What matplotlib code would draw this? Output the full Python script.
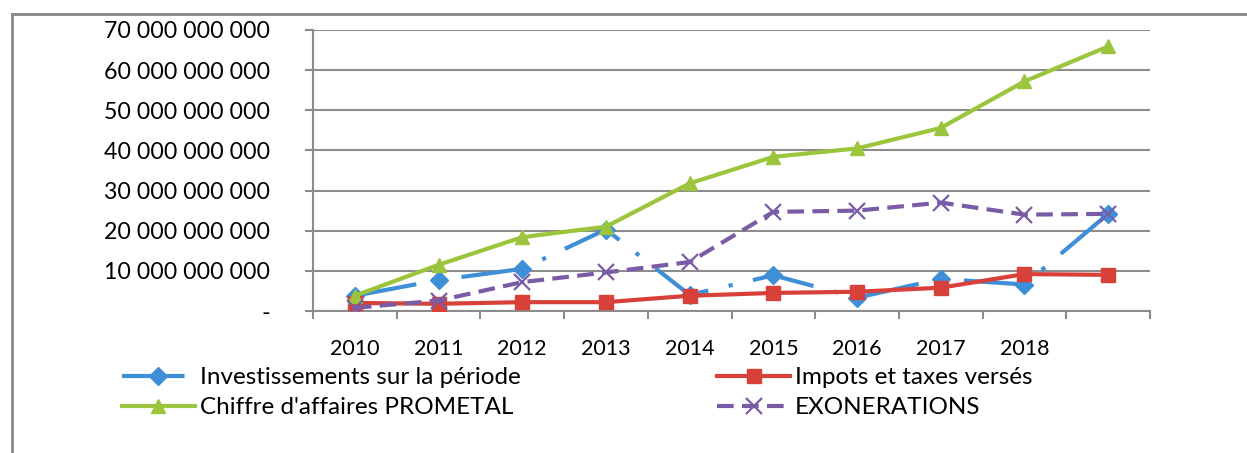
import matplotlib.pyplot as plt
import numpy as np
from matplotlib.lines import Line2D

# Données
annees = ['2010', '2011', '2012', '2013', '2014', '2015', '2016', '2017', '2018', '']
investissements = [3.8e9, 7.7e9, 10.5e9, 20.3e9, 4.0e9, 8.9e9, 3.3e9, 8.0e9, 6.6e9, 24.2e9]
impots = [2.0e9, 1.8e9, 2.2e9, 2.2e9, 3.8e9, 4.5e9, 4.8e9, 5.8e9, 9.2e9, 9.0e9]
chiffre_affaires = [3.8e9, 11.5e9, 18.4e9, 21.0e9, 31.8e9, 38.4e9, 40.5e9, 45.6e9, 57.2e9, 65.9e9]
exonerations = [0.8e9, 2.6e9, 7.2e9, 9.6e9, 12.2e9, 24.7e9, 25.0e9, 27.0e9, 24.0e9, 24.2e9]

bleu = '#3E8ED8'
rouge = '#D8403A'
vert = '#9BC53D'
violet = '#7A5BA6'
gris = '#8c8c8c'

plt.rcParams['font.family'] = ['Lato', 'DejaVu Sans']

fig = plt.figure(figsize=(12.47, 4.53), dpi=100)
ax = fig.add_axes([313 / 1247, 1 - 311 / 453, (1150 - 313) / 1247, (311 - 30) / 453])

x = np.arange(len(annees))

style_inv = dict(color=bleu, lw=3, linestyle=(0, (15, 5, 1, 5)), marker='D', ms=9)
style_imp = dict(color=rouge, lw=3, marker='s', ms=10)
style_ca = dict(color=vert, lw=3, marker='^', ms=10)
style_exo = dict(color=violet, lw=3, linestyle=(0, (4, 2)), marker='x', ms=12, mew=1.6)

ax.plot(x, impots, zorder=3, **style_imp)
ax.plot(x, chiffre_affaires, zorder=3, **style_ca)
ax.plot(x, exonerations, zorder=4, **style_exo)
ax.plot(x, investissements, zorder=2, **style_inv)

ax.set_xlim(-0.5, len(annees) - 0.5)
ax.set_ylim(0, 70e9)

yt = np.arange(0, 70e9 + 1, 10e9)
ax.set_yticks(yt)
ax.set_yticklabels(['-'] + ['{:,.0f}'.format(v).replace(',', ' ') for v in yt[1:]])
ax.yaxis.grid(True, color=gris, lw=1.5)
ax.set_axisbelow(True)

ax.set_xticks(x[:-1])
ax.set_xticklabels(annees[:-1])
ax.set_xticks(np.arange(-0.5, len(annees)), minor=True)
ax.tick_params(axis='x', which='major', length=0, labelsize=15.5, pad=20)
ax.tick_params(axis='x', which='minor', length=6, width=1.5, color=gris, direction='out')
ax.tick_params(axis='y', length=6, width=1.5, color=gris, labelsize=16.7, pad=25)

for s in ['top', 'right']:
    ax.spines[s].set_visible(False)
ax.spines['left'].set_color(gris)
ax.spines['left'].set_linewidth(1.5)
ax.spines['bottom'].set_color(gris)
ax.spines['bottom'].set_linewidth(1.5)

# Légende (ordre colonne par colonne pour obtenir deux lignes)
poignees = [Line2D([], [], **style_inv), Line2D([], [], **style_ca),
            Line2D([], [], **style_imp), Line2D([], [], **style_exo)]
noms = ["Investissements sur la période", "Chiffre d'affaires PROMETAL",
        "Impots et taxes versés", "EXONERATIONS"]
fig.legend(poignees, noms, loc='upper left', bbox_to_anchor=(122 / 1247, 1 - 367 / 453),
           ncol=2, frameon=False, fontsize=17.5, handlelength=3.0, handletextpad=0.2,
           columnspacing=8.1, labelspacing=0.38, borderaxespad=0, borderpad=0)

# Cadre du graphique
fig.add_artist(Line2D([12 / 1247, 12 / 1247], [0, 1 - 14 / 453], color='#888888', lw=2))
fig.add_artist(Line2D([12 / 1247, 1], [1 - 14 / 453, 1 - 14 / 453], color='#888888', lw=2))

fig.savefig('out.png', dpi=100)
